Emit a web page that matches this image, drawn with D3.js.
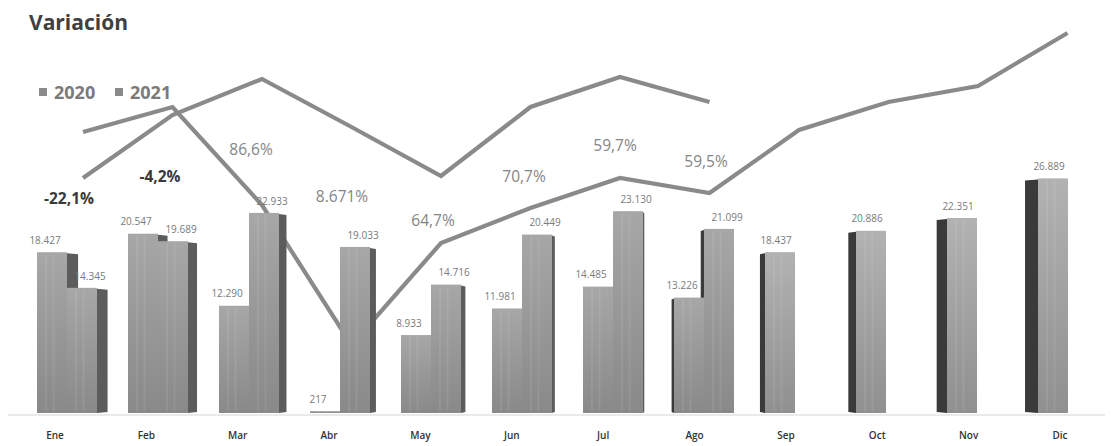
<!DOCTYPE html>
<html>
<head>
<meta charset="utf-8">
<script src="https://cdn.jsdelivr.net/npm/d3@7"></script>
<style>
  html, body { margin: 0; padding: 0; background: #ffffff; }
  svg { display: block; }
</style>
</head>
<body>
<svg id="chart" width="1119" height="446"></svg>
<script>
// ---- data ----
const months = ["Ene", "Feb", "Mar", "Abr", "May", "Jun", "Jul", "Ago", "Sep", "Oct", "Nov", "Dic"];
const sales2020 = [18427, 20547, 12290, 217, 8933, 11981, 14485, 13226, 18437, 20886, 22351, 26889];
const sales2021 = [14345, 19689, 22933, 19033, 14716, 20449, 23130, 21099];
const variationLabels = ["-22,1%", "-4,2%", "86,6%", "8.671%", "64,7%", "70,7%", "59,7%", "59,5%"];
const variationLevel = [24400, 27000, 30100, 24700, 21900, 26900, 30500, 28700];
const trend2020 = [70.25, 76.5, 52, 17, 42.5, 51.25, 58.75, 55, 70.75, 77.75, 81.75, 95];
const trend2021 = [58.75, 74.5, 83.5, 71.5, 59.25, 76.5, 84, 77.75];
const seriesNames = ["2020", "2021"];

// ---- setup ----
const svg = d3.select("#chart");
const fmt = d3.formatLocale({ decimal: ",", thousands: ".", grouping: [3], currency: ["", ""] }).format(",d");

const baseY = 413;
const y = d3.scaleLinear().domain([0, 40000]).range([baseY, 64]);
const yTrend = d3.scaleLinear().domain([0, 100]).range([baseY, 13]);
const xPair = d3.scalePoint().domain(months).range([67, 1068]);
const xTrend = d3.scalePoint().domain(months).range([83, 1067.5]);
const xLabel = d3.scalePoint().domain(months).range([55, 1060]);
const barW = 30;
const vpX = 660;

const defs = svg.append("defs");
function grad(id, c1, c2) {
  const g = defs.append("linearGradient").attr("id", id)
    .attr("x1", 0).attr("y1", 0).attr("x2", 0).attr("y2", 1);
  g.append("stop").attr("offset", "0%").attr("stop-color", c1);
  g.append("stop").attr("offset", "100%").attr("stop-color", c2);
}
grad("gFront", "#a7a7a7", "#898989");
grad("gFrontLight", "#b2b2b2", "#909090");
const shadow = defs.append("filter").attr("id", "soft").attr("x", "-5%").attr("y", "-5%").attr("width", "110%").attr("height", "110%");
shadow.append("feGaussianBlur").attr("stdDeviation", 0.6);

// ---- title ----
svg.append("text").attr("x", 29).attr("y", 30)
  .attr("font-family", "Open Sans, sans-serif").attr("font-weight", 700)
  .attr("font-size", 21).attr("fill", "#404040").text("Variación");

// ---- legend ----
const leg = svg.append("g").attr("font-family", "Open Sans, sans-serif");
const legX = [39, 115];
seriesNames.forEach((s, i) => {
  leg.append("rect").attr("x", legX[i]).attr("y", 88).attr("width", 8).attr("height", 8).attr("fill", "#8a8a8a");
  leg.append("text").attr("x", legX[i] + 15).attr("y", 99)
    .attr("font-size", 18).attr("font-weight", 700).attr("fill", "#7a7a7a").text(s);
});

// ---- axis line ----
svg.append("line").attr("x1", 8).attr("x2", 1105).attr("y1", baseY + 2).attr("y2", baseY + 2)
  .attr("stroke", "#d6d6d6").attr("stroke-width", 1.2);

// ---- trend lines (behind the columns) ----
const lineGen = d3.line().x((d, i) => xTrend(months[i])).y(d => yTrend(d));
[trend2020, trend2021].forEach(arr => {
  svg.append("path").datum(arr).attr("d", lineGen)
    .attr("fill", "none").attr("stroke", "#8a8a8a").attr("stroke-width", 4.2)
    .attr("stroke-linejoin", "miter").attr("filter", "url(#soft)");
});

// ---- bars ----
const bars = [];
months.forEach((m, i) => {
  const c = xPair(m);
  const solo = sales2021[i] === undefined;
  bars.push({ m, i, v: sales2020[i], x0: c - barW, x1: c, series: 0, solo });
  if (!solo) bars.push({ m, i, v: sales2021[i], x0: c, x1: c + barW, series: 1, solo });
});
bars.forEach(b => {
  const cx = (b.x0 + b.x1) / 2;
  b.dist = Math.abs(cx - vpX);
  if (cx < vpX) { b.side = "right"; b.sw = 1 + 0.017 * (vpX - b.x1); }
  else { b.side = "left"; b.sw = 2 + 0.029 * (b.x0 - vpX); }
});
const ordered = bars.slice().sort((a, b) => b.dist - a.dist);
const gBars = svg.append("g");
ordered.forEach(b => {
  const top = y(b.v);
  const h = baseY - top;
  const g = gBars.append("g");
  if (b.side === "right") {
    g.append("path")
      .attr("d", `M${b.x1},${top + 1}L${b.x1 + b.sw},${top + 2}L${b.x1 + b.sw},${baseY - 1}L${b.x1},${baseY}Z`)
      .attr("fill", "#5c5c5c");
  } else {
    g.append("path")
      .attr("d", `M${b.x0 - b.sw},${top + 2}L${b.x0},${top + 1}L${b.x0},${baseY}L${b.x0 - b.sw},${baseY - 1}Z`)
      .attr("fill", "#3a3a3a");
  }
  g.append("rect").attr("x", b.x0).attr("y", top).attr("width", b.x1 - b.x0).attr("height", h)
    .attr("fill", b.solo ? "url(#gFrontLight)" : "url(#gFront)");
  [0.3, 0.55].forEach(f => {
    g.append("line").attr("x1", b.x0 + f * barW).attr("x2", b.x0 + f * barW)
      .attr("y1", top + 2).attr("y2", baseY - 2)
      .attr("stroke", "#ffffff").attr("stroke-opacity", 0.08).attr("stroke-width", 2);
  });
});

// ---- bar value labels ----
const gVal = svg.append("g").attr("font-family", "Open Sans, sans-serif")
  .attr("font-size", 10).attr("fill", "#7a7a7a").attr("text-anchor", "middle");
bars.forEach(b => {
  const cx = (b.x0 + b.x1) / 2;
  const off = b.solo ? -4 : (b.series === 0 ? -7 : 8);
  gVal.append("text").attr("x", cx + off).attr("y", y(b.v) - 11)
    .attr("dominant-baseline", "middle").text(fmt(b.v));
});

// ---- variation labels ----
const gPct = svg.append("g").attr("font-family", "Open Sans, sans-serif")
  .attr("font-size", 15.5).attr("text-anchor", "middle");
variationLabels.forEach((t, i) => {
  const neg = t.startsWith("-");
  gPct.append("text").attr("x", xPair(months[i]) + 2).attr("y", y(variationLevel[i]))
    .attr("dominant-baseline", "middle")
    .attr("font-weight", neg ? 700 : 400)
    .attr("fill", neg ? "#3a3a3a" : "#858585")
    .text(t);
});

// ---- x axis labels ----
const gX = svg.append("g").attr("font-family", "Open Sans, sans-serif")
  .attr("font-size", 10).attr("font-weight", 600).attr("fill", "#333").attr("text-anchor", "middle");
months.forEach(m => {
  gX.append("text").attr("x", xLabel(m)).attr("y", 439).text(m);
});
</script>
</body>
</html>
